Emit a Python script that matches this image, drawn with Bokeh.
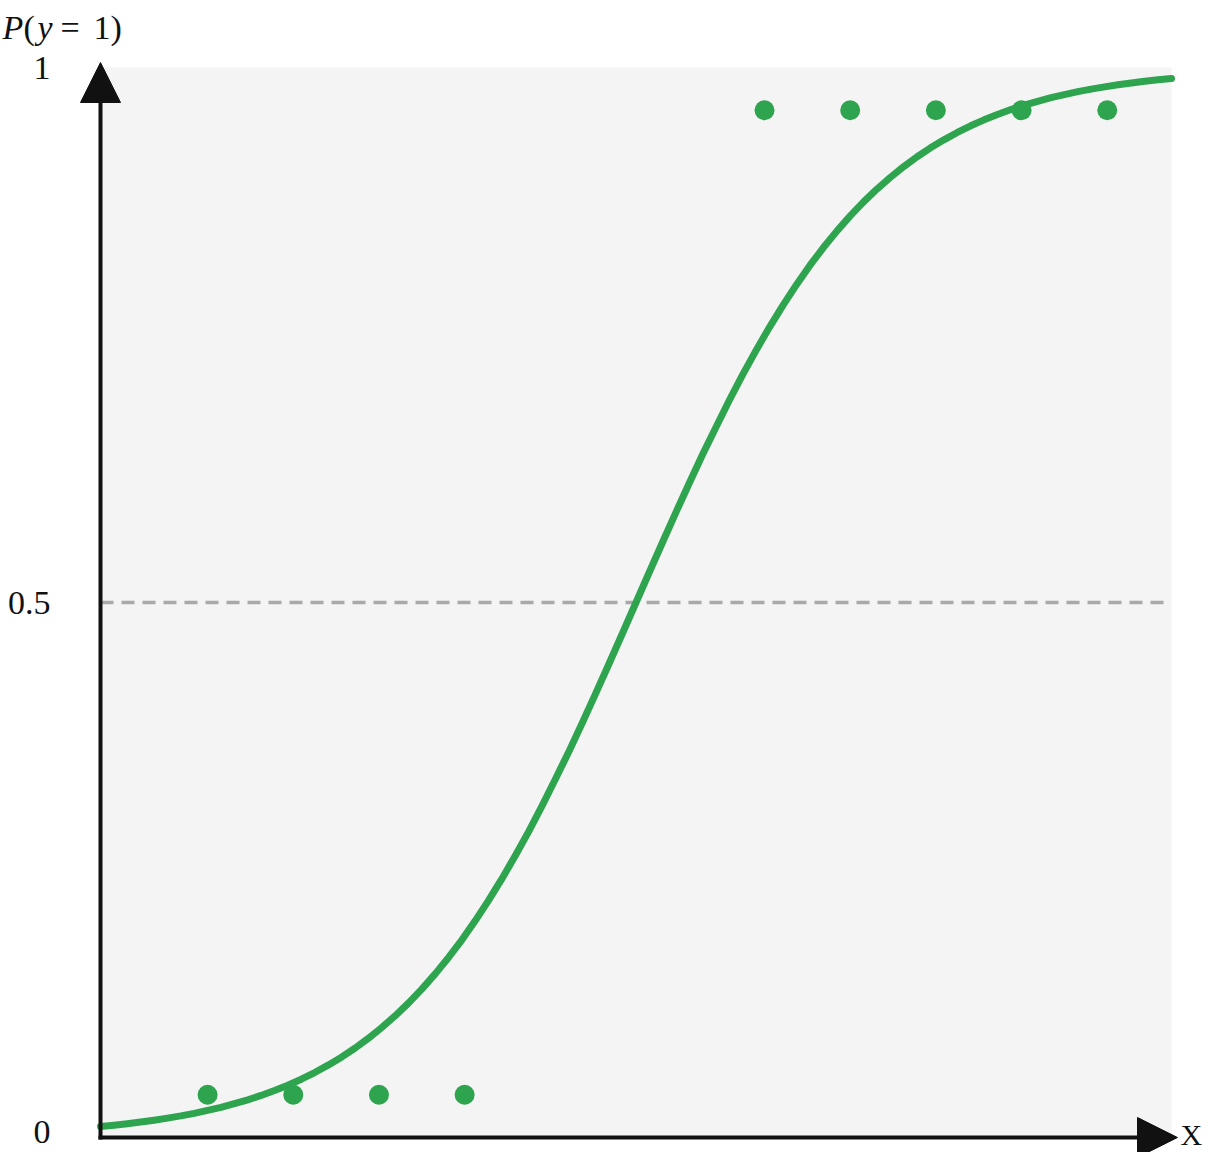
from bokeh.plotting import figure
from bokeh.models import Range1d, Arrow, NormalHead, ColumnDataSource
from bokeh.core.properties import value
from bokeh.embed import file_html
from bokeh.resources import INLINE

# ---- data ----
curve_x = [0.0, 0.125, 0.25, 0.375, 0.5, 0.625, 0.75, 0.875,
           1.0, 1.125, 1.25, 1.375, 1.5, 1.625, 1.75, 1.875,
           2.0, 2.125, 2.25, 2.375, 2.5, 2.625, 2.75, 2.875,
           3.0, 3.125, 3.25, 3.375, 3.5, 3.625, 3.75, 3.875,
           4.0, 4.125, 4.25, 4.375, 4.5, 4.625, 4.75, 4.875,
           5.0, 5.125, 5.25, 5.375, 5.5, 5.625, 5.75, 5.875,
           6.0, 6.125, 6.25, 6.375, 6.5, 6.625, 6.75, 6.875,
           7.0, 7.125, 7.25, 7.375, 7.5, 7.625, 7.75, 7.875,
           8.0, 8.125, 8.25, 8.375, 8.5, 8.625, 8.75, 8.875,
           9.0, 9.125, 9.25, 9.375, 9.5, 9.625, 9.75, 9.875, 10.0]
curve_y = [0.0103, 0.0115, 0.0129, 0.0145, 0.0162, 0.0181, 0.0202, 0.0226,
           0.0253, 0.0282, 0.0316, 0.0352, 0.0393, 0.0439, 0.0489, 0.0545,
           0.0607, 0.0676, 0.0751, 0.0834, 0.0926, 0.1027, 0.1136, 0.1256,
           0.1387, 0.1529, 0.1683, 0.1848, 0.2027, 0.2218, 0.2421, 0.2637,
           0.2863, 0.3103, 0.3355, 0.3610, 0.3878, 0.4153, 0.4432, 0.4715,
           0.5000, 0.5285, 0.5568, 0.5847, 0.6122, 0.6390, 0.6645, 0.6897,
           0.7137, 0.7363, 0.7579, 0.7782, 0.7973, 0.8152, 0.8317, 0.8471,
           0.8613, 0.8744, 0.8864, 0.8973, 0.9074, 0.9166, 0.9249, 0.9324,
           0.9393, 0.9455, 0.9511, 0.9561, 0.9607, 0.9648, 0.9684, 0.9718,
           0.9747, 0.9774, 0.9798, 0.9819, 0.9838, 0.9855, 0.9871, 0.9885,
           0.9897]

neg_x = [1.0, 1.8, 2.6, 3.4]
neg_y = [0.04, 0.04, 0.04, 0.04]
pos_x = [6.2, 7.0, 7.8, 8.6, 9.4]
pos_y = [0.96, 0.96, 0.96, 0.96, 0.96]

threshold = 0.5
tick_values = [0, 0.5, 1]
tick_labels = ["0", "0.5", "1"]
x_min, x_max = 0, 10
y_min, y_max = 0, 1

# ---- layout (pixels) ----
W, H = 1215, 1152
left_px, right_px = 100, 1171     # canvas x of data x_min / x_max
top_px, bottom_px = 67, 1137      # canvas y of data y_max / y_min
sx = (right_px - left_px) / (x_max - x_min)
sy = (bottom_px - top_px) / (y_max - y_min)

GREEN = "#2ea44f"
INK = "#111111"
SERIF = value("Liberation Serif")

p = figure(width=W, height=H, output_backend="svg", toolbar_location=None,
           x_axis_type=None, y_axis_type=None, min_border=0,
           x_range=Range1d(x_min - left_px / sx, x_max + (W - right_px) / sx),
           y_range=Range1d(y_min - (H - bottom_px) / sy, y_max + top_px / sy))
p.grid.visible = False
p.outline_line_color = None
p.background_fill_color = "white"
p.border_fill_color = "white"

# plot panel
p.quad(left=[x_min], right=[x_max], bottom=[y_min], top=[y_max],
       fill_color="#f4f4f4", line_color=None)

# threshold line
p.line([x_min, x_max], [threshold, threshold], line_color="#a9a9a9",
       line_width=3.5, line_dash="13 8")

# sigmoid curve
p.line(curve_x, curve_y, line_color=GREEN, line_width=7, line_cap="round",
       line_join="round")

# observations
p.scatter(neg_x, neg_y, size=20, fill_color=GREEN, line_color=None)
p.scatter(pos_x, pos_y, size=20, fill_color=GREEN, line_color=None)

# axes with arrow heads
p.add_layout(Arrow(end=NormalHead(size=40, fill_color=INK, line_color=INK),
                   x_start=x_min, y_start=y_min - 2 / sy,
                   x_end=x_min, y_end=y_max + 5 / sy,
                   line_color=INK, line_width=4))
p.add_layout(Arrow(end=NormalHead(size=40, fill_color=INK, line_color=INK),
                   x_start=x_min - 2 / sx, y_start=y_min,
                   x_end=x_max + 6 / sx, y_end=y_min,
                   line_color=INK, line_width=4))

# tick labels (the lowest one nudged up so it stays inside the canvas)
tick_src = ColumnDataSource(dict(
    x=[x_min] * len(tick_values), y=tick_values, text=tick_labels,
    dy=[-6, 0, 0],
))
p.text(x="x", y="y", text="text", y_offset="dy", source=tick_src,
       x_offset=-50, text_align="right", text_baseline="middle",
       text_font=SERIF, text_font_size="34px", text_color=INK)

# x-axis label
p.text(x=[x_max], y=[y_min], text=["X"], x_offset=9, y_offset=-3,
       text_align="left", text_baseline="alphabetic",
       text_font=SERIF, text_font_size="30px", text_color=INK)

# y-axis label  P(y = 1)
ylab = ColumnDataSource(dict(
    x=[x_min] * 6, y=[y_max] * 6,
    text=["P", "(", "y", "=", "1", ")"],
    dx=[-98, -77, -63, -40, -7, 10],
    style=["italic", "normal", "italic", "normal", "normal", "normal"],
))
p.text(x="x", y="y", text="text", x_offset="dx", y_offset=-40,
       text_font_style="style", source=ylab,
       text_align="left", text_baseline="alphabetic",
       text_font=SERIF, text_font_size="34px", text_color=INK)

open("out.html", "w").write(file_html(p, INLINE))
